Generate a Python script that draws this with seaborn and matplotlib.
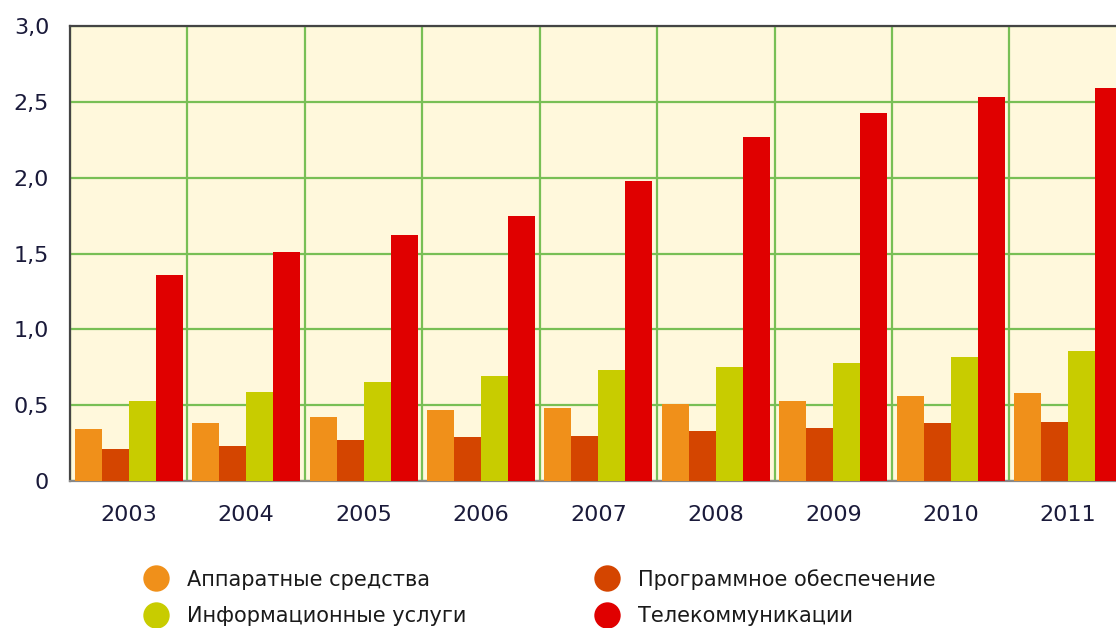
import numpy as np
import pandas as pd
import matplotlib
matplotlib.use("Agg")
import matplotlib.pyplot as plt
from matplotlib.lines import Line2D
from matplotlib.ticker import FixedLocator
import seaborn as sns

# --- ДАННЫЕ ---
years = ["2003", "2004", "2005", "2006", "2007", "2008", "2009", "2010", "2011"]
hardware = [0.34, 0.38, 0.42, 0.47, 0.48, 0.51, 0.53, 0.56, 0.58]
software = [0.21, 0.23, 0.27, 0.29, 0.30, 0.33, 0.35, 0.38, 0.39]
it_services = [0.53, 0.59, 0.65, 0.69, 0.73, 0.75, 0.78, 0.82, 0.86]
telecom = [1.36, 1.51, 1.62, 1.75, 1.98, 2.27, 2.43, 2.53, 2.59]

series_names = ["Аппаратные средства", "Программное обеспечение",
                "Информационные услуги", "Телекоммуникации"]
series_colors = ["#F0901A", "#D44500", "#C8CC00", "#E00000"]
y_ticks = [0, 0.5, 1.0, 1.5, 2.0, 2.5, 3.0]
y_tick_labels = ["0", "0,5", "1,0", "1,5", "2,0", "2,5", "3,0"]

rows = []
for name, vals in zip(series_names, [hardware, software, it_services, telecom]):
    for y, v in zip(years, vals):
        rows.append({"year": y, "series": name, "value": v})
df = pd.DataFrame(rows)

sns.set_style("white")
plt.rcParams["font.family"] = ["DejaVu Sans"]

fig = plt.figure(figsize=(11.16, 6.28), dpi=100)
ax = fig.add_axes([0.0627, 0.234, 0.947, 0.7245])
ax.set_facecolor("#FFF8DC")

sns.barplot(data=df, x="year", y="value", hue="series", order=years,
            hue_order=series_names, palette=series_colors, width=0.92,
            linewidth=0, saturation=1, ax=ax, legend=False, zorder=3)

ax.set_xlim(-0.5, len(years) - 0.5)
ax.set_ylim(0, 3.0)
ax.set_yticks(y_ticks)
ax.set_yticklabels(y_tick_labels)
# вертикальная сетка между группами лет
ax.xaxis.set_minor_locator(FixedLocator(np.arange(-0.5, len(years), 1)))
ax.grid(which="minor", axis="x", color="#78BF55", linewidth=1.6, zorder=1)
ax.grid(which="major", axis="y", color="#78BF55", linewidth=1.6, zorder=1)
ax.set_axisbelow(True)

ax.set_xlabel("")
ax.set_ylabel("")
ax.tick_params(axis="both", which="both", length=0)
ax.tick_params(axis="y", labelsize=16, pad=15, labelcolor="#1A1A3A")
ax.tick_params(axis="x", labelsize=16, pad=17, labelcolor="#1A1A3A")

for s in ["left", "top"]:
    ax.spines[s].set_color("#444444")
    ax.spines[s].set_linewidth(1.6)
ax.spines["bottom"].set_color("#888888")
ax.spines["bottom"].set_linewidth(1.6)
ax.spines["right"].set_visible(False)

handles = [Line2D([0], [0], marker="o", linestyle="", markersize=19,
                  markerfacecolor=c, markeredgewidth=0) for c in series_colors]
order = [0, 2, 1, 3]
fig.legend([handles[i] for i in order], [series_names[i] for i in order],
           ncol=2, loc="lower left", bbox_to_anchor=(0.104, -0.027),
           frameon=False, fontsize=15, columnspacing=5.75, handletextpad=0.5,
           labelspacing=0.8, labelcolor="#1A1A1A")

fig.savefig("out.png", dpi=100)
